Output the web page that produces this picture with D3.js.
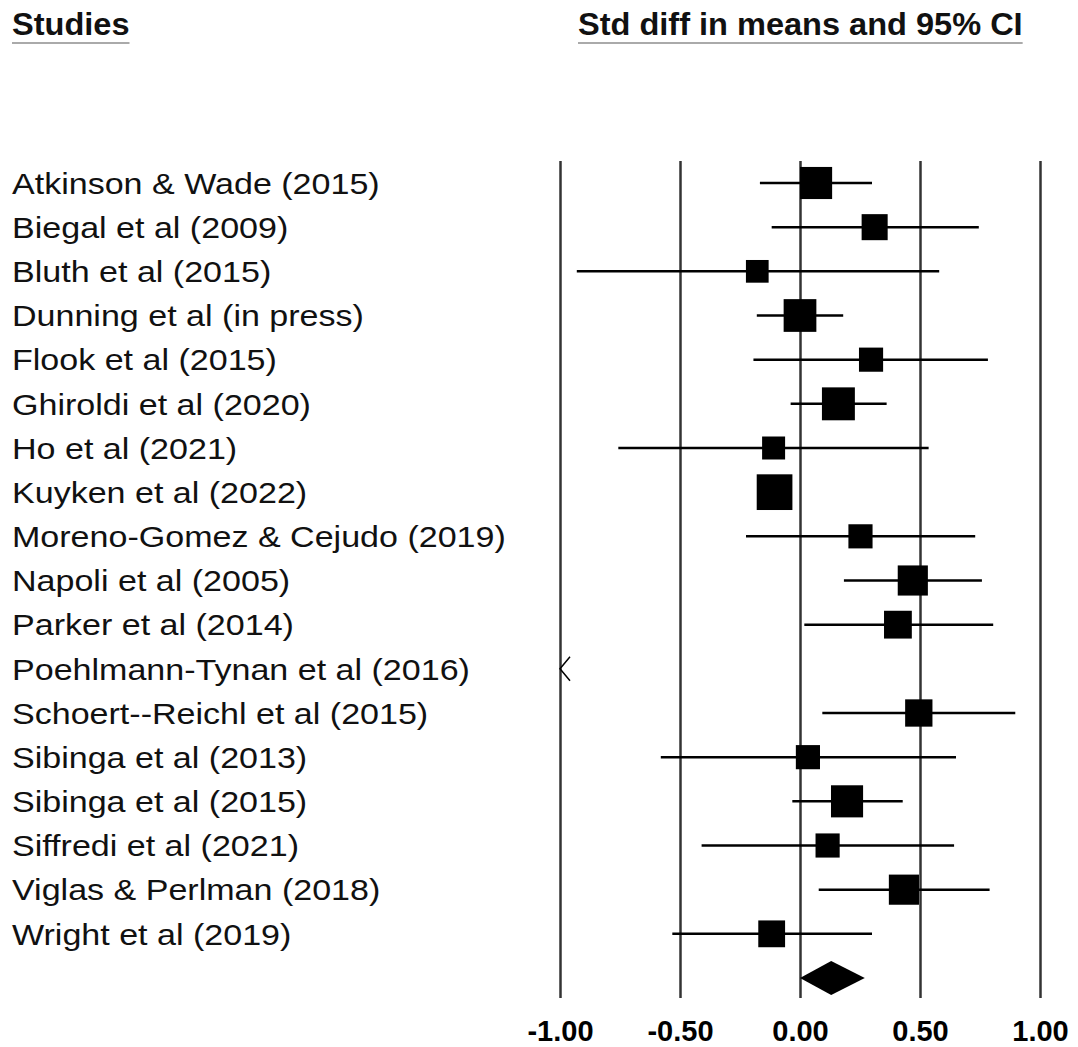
<!DOCTYPE html>
<html>
<head>
<meta charset="utf-8">
<script src="https://cdn.jsdelivr.net/npm/d3@7"></script>
<style>
  body { margin: 0; background: #fff; }
  svg { display: block; font-family: Arial, "Liberation Sans", sans-serif; }
</style>
</head>
<body>
<div id="chart"></div>
<script>
// study names, top to bottom
var studies = [
  "Atkinson & Wade (2015)", "Biegal et al (2009)", "Bluth et al (2015)",
  "Dunning et al (in press)", "Flook et al (2015)", "Ghiroldi et al (2020)",
  "Ho et al (2021)", "Kuyken et al (2022)", "Moreno-Gomez & Cejudo (2019)",
  "Napoli et al (2005)", "Parker et al (2014)", "Poehlmann-Tynan et al (2016)",
  "Schoert--Reichl et al (2015)", "Sibinga et al (2013)", "Sibinga et al (2015)",
  "Siffredi et al (2021)", "Viglas & Perlman (2018)", "Wright et al (2019)"
];
// std diff in means and 95% CI
var effect = [0.067, 0.311, -0.178, 0.0, 0.296, 0.16, -0.11, -0.106, 0.252, 0.47, 0.408, -1.6, 0.495, 0.033, 0.196, 0.115, 0.433, -0.118];
var lower  = [-0.167, -0.118, -0.93, -0.18, -0.194, -0.039, -0.757, -0.15, -0.225, 0.183, 0.018, -2.3, 0.093, -0.58, -0.032, -0.41, 0.078, -0.532];
var upper  = [0.30, 0.745, 0.58, 0.18, 0.783, 0.361, 0.536, -0.06, 0.73, 0.758, 0.805, -1.05, 0.897, 0.65, 0.428, 0.642, 0.79, 0.30];
// relative weights (%)
var weight = [7.6, 5.0, 3.8, 7.9, 4.3, 8.0, 3.9, 9.4, 4.3, 6.7, 5.7, 3.0, 5.5, 4.3, 7.6, 4.3, 6.7, 5.3];
// pooled estimate
var pooled = {effect: 0.13, lower: 0.0, upper: 0.27};
var tickValues = [-1, -0.5, 0, 0.5, 1];

var width = 1078, height = 1047;

var svg = d3.select("#chart").append("svg")
  .attr("width", width)
  .attr("height", height);

var x = d3.scaleLinear().domain([-1, 1]).range([560, 1040]);
var rows = studies.concat(["Summary"]);
var y = d3.scalePoint().domain(rows).range([183, 978]);
var size = d3.scaleSqrt().domain([0, 9.4]).range([0, 35.7]);

var gridTop = 161, gridBottom = 998;

// vertical lines + tick labels
var fmt = d3.format(".2f");
var axis = svg.append("g")
  .attr("transform", "translate(0," + gridBottom + ")")
  .call(d3.axisBottom(x)
    .tickValues(tickValues)
    .tickFormat(d => fmt(d).replace("\u2212", "-"))
    .tickSizeInner(-(gridBottom - gridTop))
    .tickSizeOuter(0)
    .tickPadding(22));
axis.select(".domain").remove();
axis.selectAll(".tick line")
  .attr("stroke", "#333")
  .attr("stroke-width", 2.5);
axis.selectAll(".tick text")
  .attr("fill", "#000")
  .attr("font-size", "29px")
  .attr("font-weight", "bold")
  .attr("font-family", "Arial, 'Liberation Sans', sans-serif");

// headers
function header(txt, xpos) {
  var g = svg.append("g")
    .attr("transform", "translate(" + xpos + ",0) scale(1.05,1)");
  var t = g.append("text")
    .attr("x", 0).attr("y", 35)
    .attr("font-size", "31px")
    .attr("font-weight", "bold")
    .attr("fill", "#111")
    .text(txt);
  var w = t.node().getComputedTextLength();
  g.append("line")
    .attr("x1", 0).attr("x2", w)
    .attr("y1", 43).attr("y2", 43)
    .attr("stroke", "#aaa").attr("stroke-width", 2);
}
header("Studies", 12);
header("Std diff in means and 95% CI", 578);

// study labels
svg.append("g")
    .attr("transform", "translate(12,0) scale(1.135,1)")
  .selectAll("text")
  .data(studies)
  .enter().append("text")
    .attr("x", 0)
    .attr("y", d => y(d))
    .attr("dy", "0.36em")
    .attr("font-size", "30px")
    .attr("fill", "#111")
    .text(d => d);

var data = studies.map((s, i) => ({name: s, effect: effect[i], lower: lower[i], upper: upper[i], weight: weight[i]}));
var onScale = data.filter(d => d.upper >= -1);
var offLeft = data.filter(d => d.upper < -1);

// CI lines
svg.append("g").selectAll("line")
  .data(onScale)
  .enter().append("line")
    .attr("x1", d => x(Math.max(d.lower, -1)))
    .attr("x2", d => x(Math.min(d.upper, 1)))
    .attr("y1", d => y(d.name))
    .attr("y2", d => y(d.name))
    .attr("stroke", "#000")
    .attr("stroke-width", 2.5);

// squares
svg.append("g").selectAll("rect")
  .data(onScale)
  .enter().append("rect")
    .attr("x", d => x(d.effect) - size(d.weight) / 2)
    .attr("y", d => y(d.name) - size(d.weight) / 2)
    .attr("width", d => size(d.weight))
    .attr("height", d => size(d.weight))
    .attr("fill", "#000");

// off-scale arrows
svg.append("g").selectAll("path")
  .data(offLeft)
  .enter().append("path")
    .attr("d", d => {
      var cx = x(-1), cy = y(d.name);
      return "M" + (cx + 10) + "," + (cy - 12) + "L" + cx + "," + cy + "L" + (cx + 10) + "," + (cy + 12);
    })
    .attr("fill", "none")
    .attr("stroke", "#000")
    .attr("stroke-width", 1.5);

// pooled diamond
var py = y("Summary");
svg.append("path")
  .attr("d", "M" + x(pooled.lower) + "," + py +
             "L" + x(pooled.effect) + "," + (py - 17) +
             "L" + x(pooled.upper) + "," + py +
             "L" + x(pooled.effect) + "," + (py + 17) + "Z")
  .attr("fill", "#000");
</script>
</body>
</html>
